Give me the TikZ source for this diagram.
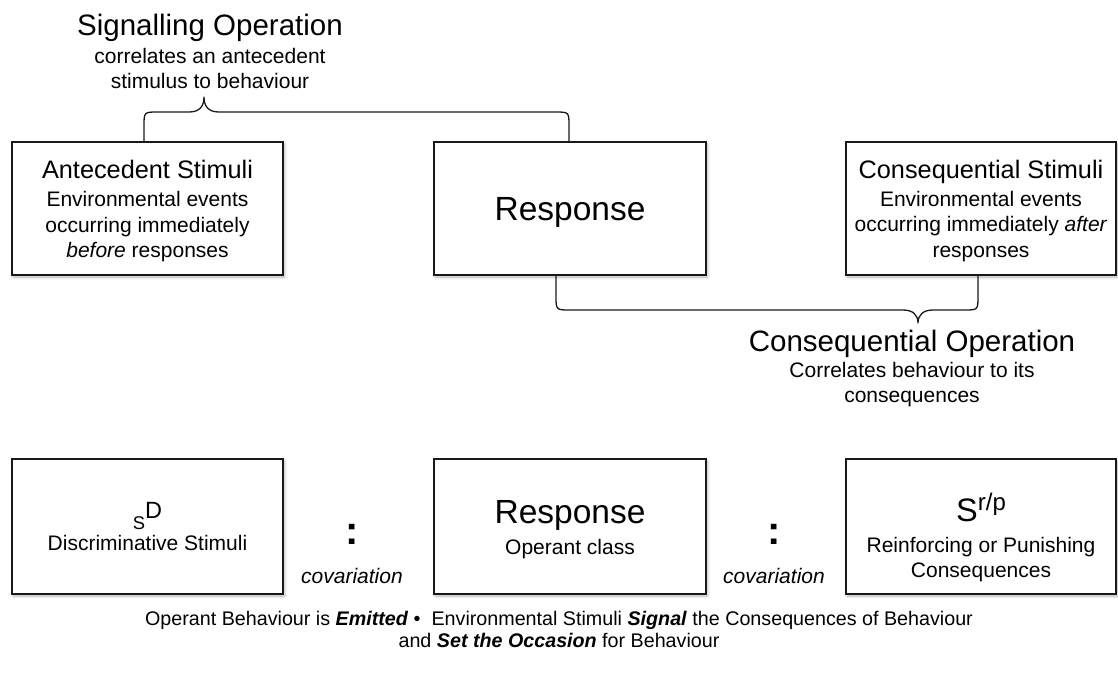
\documentclass[tikz,border=0pt]{standalone}
\usepackage{fontspec}
\setmainfont{Liberation Sans}
\usetikzlibrary{calc,shadows.blur}

% type sizes (1pt = 1 unit of the drawing)
\newcommand\subsz{\fontsize{21}{25.5}\selectfont}
\newcommand\boxtitlesz{\fontsize{25.3}{30}\selectfont}
\newcommand\optitlesz{\fontsize{29.5}{34}\selectfont}
\newcommand\respsz{\fontsize{33.5}{38}\selectfont}

\tikzset{
  stimbox/.style={rectangle, draw=black!90, line width=1.4pt, fill=white,
    inner sep=0pt, minimum height=133,
    blur shadow={shadow xshift=1.5pt, shadow yshift=-2pt,
      shadow blur radius=3pt, shadow blur steps=6, shadow opacity=30}},
  txt/.style={align=center, inner sep=0pt, font=\subsz},
  brace/.style={draw=black!90, line width=1.3pt, line join=round},
  colon/.style={anchor=base, inner sep=0pt, font=\fontsize{40}{40}\selectfont\bfseries},
  covar/.style={anchor=base, inner sep=0pt, font=\subsz\itshape},
}

\begin{document}
\begin{tikzpicture}[x=1pt, y=-1pt]
\useasboundingbox (0,0) rectangle (1118,675);

% ---- upper row: the three-term contingency in words
\node[stimbox, minimum width=271] (ante) at (147.5,208.5) {};
\node[stimbox, minimum width=272] (resp) at (570,208.5) {};
\node[stimbox, minimum width=270] (conq) at (981,208.5) {};

\node[txt] (anteT) at ($(ante.center)+(0,3)$)
  {{\boxtitlesz Antecedent Stimuli}\\[2.5pt]
   Environmental events\\ occurring immediately\\ \textit{before} responses};
\node[txt, font=\respsz] (respT) at ($(resp.center)+(0,3.8)$) {Response};
\node[txt] (conqT) at ($(conq.center)+(0,2.5)$)
  {{\boxtitlesz Consequential Stimuli}\\[2.5pt]
   Environmental events\\ occurring immediately \textit{after}\\ responses};

% ---- operations and their braces
\node[txt] (sigop) at (210,51.3)
  {{\optitlesz Signalling Operation}\\[2.5pt]
   correlates an antecedent\\ stimulus to behaviour};
\node[txt] (conop) at (912,368.5)
  {{\optitlesz Consequential Operation}\\[0.5pt]
   Correlates behaviour to its\\ consequences};

\coordinate (sigL) at ($(ante.north)+(-3.5,0)$);
\coordinate (sigR) at ($(resp.north)+(-1,0)$);
\draw[brace] (sigL) -- (144,126) .. controls (144,112) .. (158,112)
  -- (189,112) .. controls (199,112) and (204,107) .. (204,97)
  .. controls (204,107) and (209,112) .. (219,112)
  -- (555,112) .. controls (569,112) .. (569,126) -- (sigR);

\coordinate (conL) at ($(resp.south)+(-14,0)$);
\coordinate (conR) at ($(conq.south)+(-3,0)$);
\draw[brace] (conL) -- (556,296) .. controls (556,310) .. (570,310)
  -- (903,310) .. controls (913,310) and (918,315) .. (918,323)
  .. controls (918,315) and (923,310) .. (933,310)
  -- (964,310) .. controls (978,310) .. (978,296) -- (conR);

% ---- lower row: the contingency in symbols
\node[stimbox, minimum width=271, minimum height=135] (sd) at (147.5,526.5) {};
\node[stimbox, minimum width=272, minimum height=135] (rb) at (570,526.5) {};
\node[stimbox, minimum width=270, minimum height=135] (sr) at (981,526.5) {};

\node[txt] (sdT) at ($(sd.center)+(0,0)$)
  {{\fontsize{18.4}{20}\selectfont S}\raisebox{11pt}{\fontsize{23.5}{25}\selectfont D}\\[-4.5pt]
   Discriminative Stimuli};
\node[txt] (rbT) at ($(rb.center)+(0,3)$)
  {{\respsz Response}\\[5.5pt] Operant class};
\node[txt] (srT) at ($(sr.center)+(0,11)$)
  {{\fontsize{32.5}{35}\selectfont S}\raisebox{11pt}{\fontsize{24}{26}\selectfont r/p}\\[5.5pt]
   Reinforcing or Punishing\\ Consequences};

\node[colon] (colA) at (352,544) {:};
\node[colon] (colB) at (774,544) {:};
\node[covar] (covA) at (352,583) {covariation};
\node[covar] (covB) at (774,583) {covariation};

% ---- summary
\node[txt, font=\fontsize{19.7}{22}\selectfont] (summary) at (559,629.8)
  {Operant Behaviour is \textbf{\textit{Emitted}} \textbullet\ \ Environmental Stimuli \textbf{\textit{Signal}} the Consequences of Behaviour\\
   and \textbf{\textit{Set the Occasion}} for Behaviour};
\end{tikzpicture}
\end{document}
